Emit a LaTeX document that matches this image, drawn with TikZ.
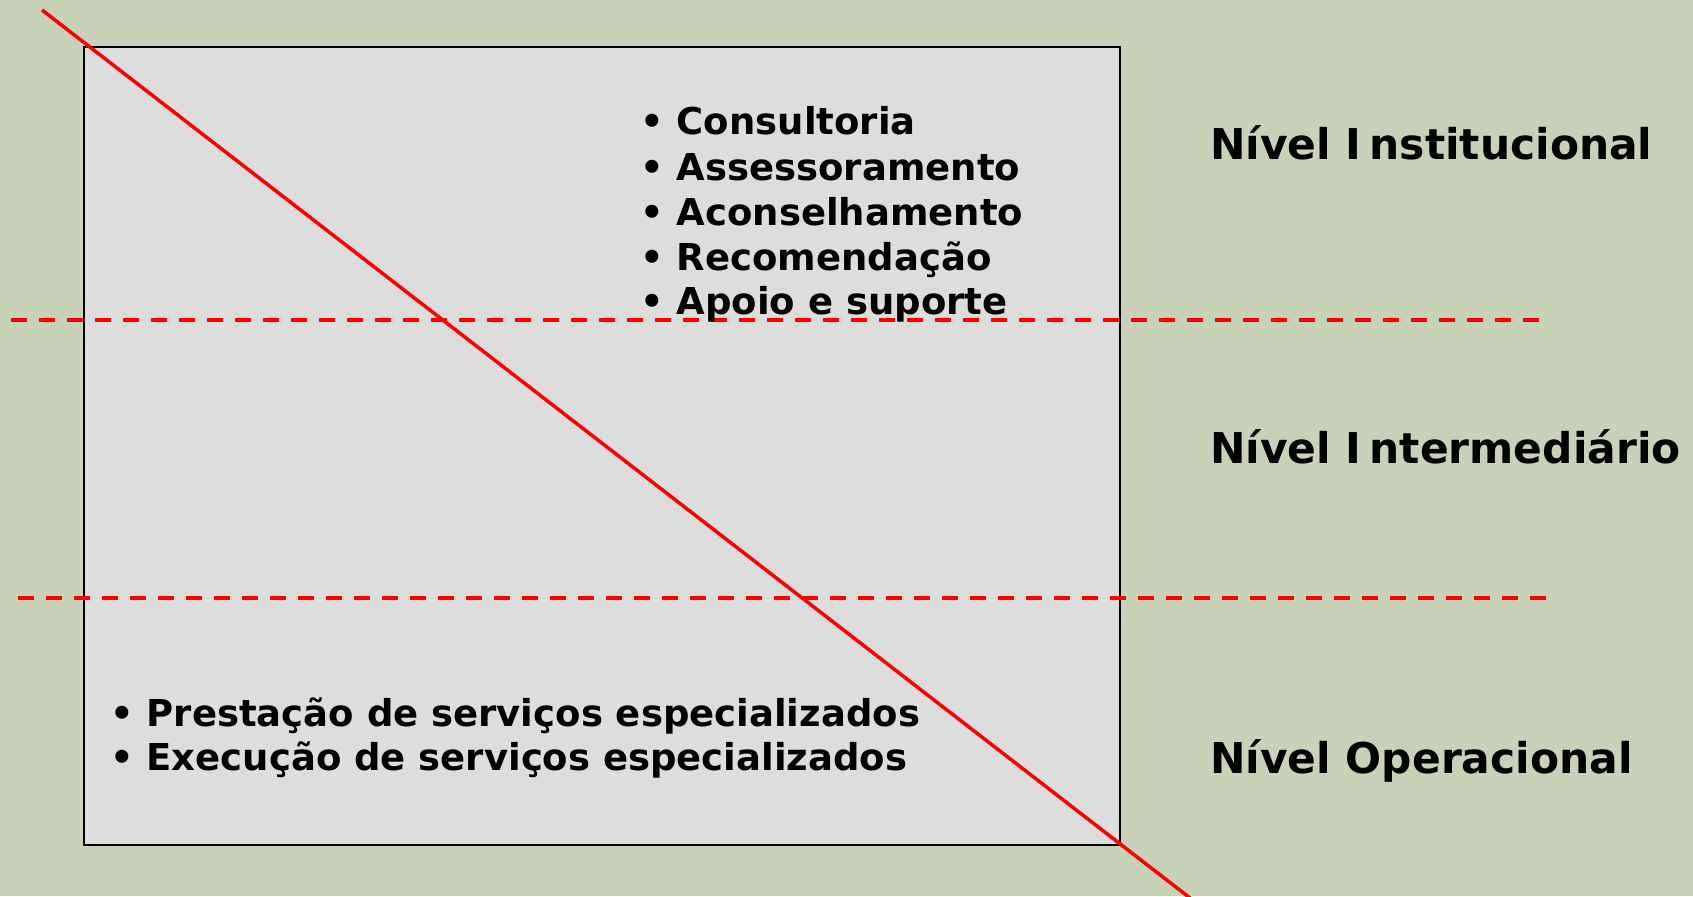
\documentclass[tikz,border=0pt]{standalone}
\usepackage{fontspec}
\setmainfont{DejaVu Sans}
\definecolor{bgcol}{HTML}{C8D2B8}
\definecolor{boxcol}{HTML}{DDDDDD}
\definecolor{redline}{HTML}{FF0000}
\tikzset{
  listitem/.style={anchor=base west, inner sep=0pt, font=\fontsize{37}{45}\selectfont\bfseries},
  levellabel/.style={anchor=base west, inner sep=0pt, font=\fontsize{42.4}{48}\selectfont\bfseries},
  divider/.style={draw=redline, line width=3.5pt, dash pattern=on 16pt off 12pt},
  diag/.style={draw=redline, line width=3.5pt},
  panel/.style={draw=black, line width=2pt, fill=boxcol}
}
\begin{document}
\begin{tikzpicture}[x=1pt,y=-1pt]
\useasboundingbox (0,0) rectangle (1693,896);
\fill[bgcol] (0,0) rectangle (1693,896);
\draw[panel] (84,47) rectangle (1120,845);
\coordinate (d1a) at (11,320);
\coordinate (d1b) at (1544,320);
\coordinate (d2a) at (18,598);
\coordinate (d2b) at (1546,598);
\draw[divider] (d1a) -- (d1b);
\draw[divider] (d2a) -- (d2b);
\coordinate (ls) at (42,10);
\coordinate (le) at (1190,898);
\draw[diag] (ls) -- (le);
\node[listitem] (t1) at (640,135) {• Consultoria};
\node[listitem] (t2) at (640,180) {• Assessoramento};
\node[listitem] (t3) at (640,225) {• Aconselhamento};
\node[listitem] (t4) at (640,270) {• Recomendação};
\node[listitem] (t5) at (640,314) {• Apoio e suporte};
\node[listitem] (b1) at (110,726) {• Prestação de serviços especializados};
\node[listitem] (b2) at (110,770) {• Execução de serviços especializados};
\node[levellabel] (n1) at (1210,160) {Nível I\kern8pt nstitucional};
\node[levellabel] (n2) at (1210,463) {Nível I\kern8pt ntermediário};
\node[levellabel] (n3) at (1210,773) {Nível Operacional};
\end{tikzpicture}
\end{document}
